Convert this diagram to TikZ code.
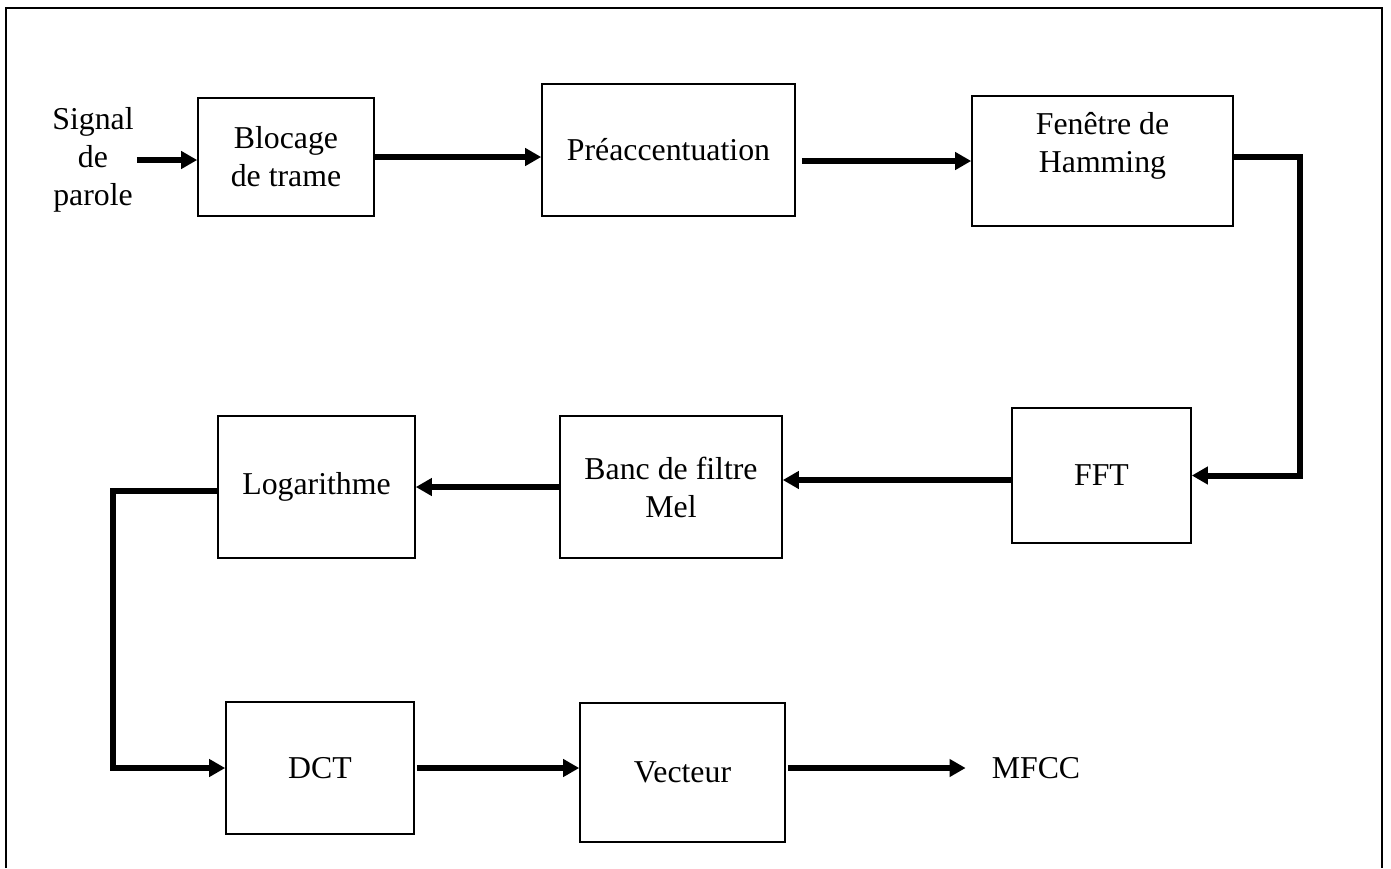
\documentclass[tikz,border=0pt]{standalone}
\usepackage{fontspec}
\setmainfont{Liberation Serif}
\usetikzlibrary{arrows.meta}
\begin{document}
\begin{tikzpicture}[x=1pt,y=-1pt,
    bloc/.style={draw,line width=1.6pt,inner sep=0pt,align=center,font=\fontsize{31.8}{38}\selectfont},
    testo/.style={inner sep=0pt,align=center,font=\fontsize{31.8}{38}\selectfont},
    fleche/.style={line width=6pt,-{Triangle[length=16pt,width=17pt]}}]
        \useasboundingbox (0,0) rectangle (1391,868);
        % cornice
        \draw [line width=1.8pt] (6,868) -- (6,8) -- (1382,8) -- (1382,868);
        % blocchi riga 1
        \node [testo,inner sep=3pt] (signal) at (93,160) {Signal\\de\\parole};
        \node [bloc,minimum width=176pt,minimum height=118pt] (blocage) at (286,157) {Blocage\\de trame};
        \node [bloc,minimum width=253pt,minimum height=132pt] (preacc) at (668.5,150) {Préaccentuation};
        \node [bloc,minimum width=261pt,minimum height=130pt] (fenetre) at (1102.5,161) {};
        \node [testo] (fenetretxt) at (1102.5,146) {Fenêtre de\\Hamming};
        % blocchi riga 2
        \node [bloc,minimum width=179pt,minimum height=135pt] (fft) at (1101.5,475.5) {FFT};
        \node [bloc,minimum width=222pt,minimum height=142pt] (banc) at (671,487) {Banc de filtre\\Mel};
        \node [bloc,minimum width=197pt,minimum height=142pt] (log) at (316.5,487) {Logarithme};
        % blocchi riga 3
        \node [bloc,minimum width=188pt,minimum height=132pt] (dct) at (320,768) {DCT};
        \node [bloc,minimum width=205pt,minimum height=139pt] (vect) at (682.5,772.5) {Vecteur};
        \node [testo] (mfcc) at (1036,768) {MFCC};
        % frecce
        \draw [fleche] (signal.east) -- (signal.east -| blocage.west);
        \draw [fleche] (blocage.east) -- (blocage.east -| preacc.west);
        \draw [fleche] ([xshift=6pt]preacc.east |- fenetre.west) -- (fenetre.west);
        \draw [fleche] ([yshift=4pt]fenetre.east) -- ++(66,0) |- (fft.east);
        \draw [fleche] ([yshift=-4.5pt]fft.west) -- ([yshift=-4.5pt]fft.west -| banc.east);
        \draw [fleche] (banc.west) -- (log.east);
        \draw [fleche] ([yshift=-4pt]log.west) -- ++(-104,0) |- (dct.west);
        \draw [fleche] ([xshift=2pt]dct.east) -- (dct.east -| vect.west);
        \draw [fleche] ([xshift=2pt]vect.east |- mfcc.west) -- ([xshift=-26pt]mfcc.west);
\end{tikzpicture}
\end{document}
